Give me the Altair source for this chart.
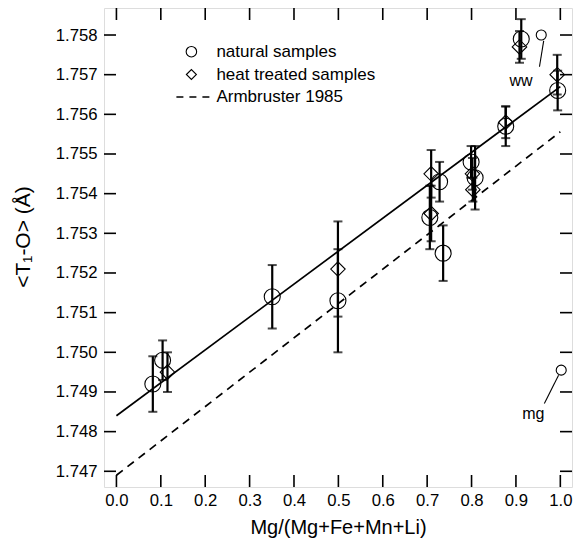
import altair as alt
import pandas as pd

# ---- data ----
nat_x = [0.082, 0.104, 0.351, 0.499, 0.706, 0.728, 0.736, 0.799, 0.808, 0.877, 0.912, 0.994]
nat_y = [1.7492, 1.7498, 1.7514, 1.7513, 1.7534, 1.7543, 1.7525, 1.7548, 1.7544, 1.7557, 1.7579, 1.7566]
nat_err = [0.0007, 0.0005, 0.0008, 0.0013, 0.0008, 0.0005, 0.0007, 0.0004, 0.0008, 0.0005, 0.0005, 0.0005]

heat_x = [0.115, 0.499, 0.709, 0.709, 0.802, 0.803, 0.877, 0.908, 0.993]
heat_y = [1.7495, 1.7521, 1.7545, 1.7535, 1.7545, 1.7541, 1.7558, 1.7577, 1.7570]
heat_err = [0.0005, 0.0012, 0.0006, 0.0007, 0.0004, 0.0003, 0.0004, 0.0004, 0.0005]

out_x = [0.957, 1.002]
out_y = [1.7580, 1.74955]
out_label = ["ww", "mg"]
lab_x = [0.9115, 0.9393]
lab_y = [1.75684, 1.74844]
lead_x1 = [0.9625, 0.996]
lead_y1 = [1.75785, 1.74942]
lead_x2 = [0.953, 0.964]
lead_y2 = [1.7572, 1.74871]

fit_x = [0.0, 1.0]
fit_y = [1.7484, 1.7567]
arm_y = [1.7469, 1.75556]

x_ticks = [0.0, 0.1, 0.2, 0.3, 0.4, 0.5, 0.6, 0.7, 0.8, 0.9, 1.0]
y_ticks = [1.747, 1.748, 1.749, 1.750, 1.751, 1.752, 1.753, 1.754, 1.755, 1.756, 1.757, 1.758]

legend_labels = ["natural samples", "heat treated samples", "Armbruster 1985"]

# ---- layout ----
W, H = 468, 479
FONT = "Liberation Sans"
xs = alt.Scale(domain=[-0.028, 1.0263], nice=False, zero=False)
ys = alt.Scale(domain=[1.746604, 1.758681], nice=False, zero=False)

x_axis = alt.Axis(values=x_ticks, format=".1f", ticks=False, domain=False, grid=False,
                  labelFontSize=16.7, labelPadding=5, labelColor="black",
                  title="Mg/(Mg+Fe+Mn+Li)", titleFontSize=20, titleFontWeight="normal",
                  titleColor="black", titlePadding=9)
y_axis = alt.Axis(values=y_ticks, format=".3f", ticks=False, domain=False, grid=False,
                  labelFontSize=16.7, labelPadding=7, labelColor="black", title=None)

nat = pd.DataFrame({"x": nat_x, "y": nat_y})
nat["lo"] = nat["y"] - pd.Series(nat_err)
nat["hi"] = nat["y"] + pd.Series(nat_err)
heat = pd.DataFrame({"x": heat_x, "y": heat_y})
heat["lo"] = heat["y"] - pd.Series(heat_err)
heat["hi"] = heat["y"] + pd.Series(heat_err)
bars = pd.concat([nat, heat], ignore_index=True)

X = lambda f: alt.X(f, type="quantitative", scale=xs, axis=x_axis)
Y = lambda f: alt.Y(f, type="quantitative", scale=ys, axis=y_axis)

xt = pd.DataFrame({"t": x_ticks})
yt = pd.DataFrame({"t": y_ticks})
TL = 12
tick_style = dict(color="black", strokeWidth=1.6)
xb = alt.Chart(xt).mark_rule(**tick_style).encode(x=X("t"), y=alt.value(H), y2=alt.value(H - TL))
xtop = alt.Chart(xt).mark_rule(**tick_style).encode(x=X("t"), y=alt.value(0), y2=alt.value(TL))
yl = alt.Chart(yt).mark_rule(**tick_style).encode(y=Y("t"), x=alt.value(0), x2=alt.value(TL))
yr = alt.Chart(yt).mark_rule(**tick_style).encode(y=Y("t"), x=alt.value(W), x2=alt.value(W - TL))

fit = pd.DataFrame({"x": fit_x, "y": fit_y, "a": arm_y})
fit_line = alt.Chart(fit).mark_line(color="black", strokeWidth=1.7).encode(x=X("x"), y=Y("y"))
arm_line = alt.Chart(fit).mark_line(color="black", strokeWidth=1.7, strokeDash=[8, 6]).encode(
    x=X("x"), y=Y("a"))

err = alt.Chart(bars).mark_rule(color="black", strokeWidth=2.2).encode(x=X("x"), y=Y("lo"), y2="hi")
cap_lo = alt.Chart(bars).mark_tick(orient="horizontal", color="black", size=9, thickness=2).encode(
    x=X("x"), y=Y("lo"))
cap_hi = alt.Chart(bars).mark_tick(orient="horizontal", color="black", size=9, thickness=2).encode(
    x=X("x"), y=Y("hi"))

circles = alt.Chart(nat).mark_point(shape="circle", size=256, filled=False, color="black",
                                    strokeWidth=1.1, opacity=1).encode(x=X("x"), y=Y("y"))
diamonds = alt.Chart(heat).mark_point(shape="diamond", size=210, filled=False, color="black",
                                      strokeWidth=1.1, opacity=1).encode(x=X("x"), y=Y("y"))

outl = pd.DataFrame({"x": out_x, "y": out_y, "lx": lab_x, "ly": lab_y, "label": out_label,
                     "x1": lead_x1, "y1": lead_y1, "x2": lead_x2, "y2": lead_y2})
out_pts = alt.Chart(outl).mark_point(shape="circle", size=100, filled=False, color="black",
                                     strokeWidth=1.1, opacity=1).encode(x=X("x"), y=Y("y"))
out_lead = alt.Chart(outl).mark_rule(color="black", strokeWidth=1.1).encode(
    x=X("x1"), y=Y("y1"), x2="x2", y2="y2")
out_txt = alt.Chart(outl).mark_text(font=FONT, fontSize=16, color="black", baseline="middle",
                                    align="center").encode(x=X("lx"), y=Y("ly"), text="label")

# legend (drawn by hand)
LX, LT = 87.4, 112.4
LY = [43.7, 66.5, 89.0]
leg_c = alt.Chart(pd.DataFrame({"a": [0]})).mark_point(shape="circle", size=110, filled=False,
        color="black", strokeWidth=1.1, opacity=1).encode(x=alt.value(LX), y=alt.value(LY[0]))
leg_d = alt.Chart(pd.DataFrame({"a": [0]})).mark_point(shape="diamond", size=100, filled=False,
        color="black", strokeWidth=1.1, opacity=1).encode(x=alt.value(LX), y=alt.value(LY[1]))
leg_l = alt.Chart(pd.DataFrame({"a": [0]})).mark_rule(color="black", strokeWidth=1.6,
        strokeDash=[7, 6]).encode(x=alt.value(72.4), x2=alt.value(105.7), y=alt.value(LY[2]))
leg_t = [alt.Chart(pd.DataFrame({"t": [lab]})).mark_text(font=FONT, fontSize=17, color="black",
         align="left", baseline="middle").encode(x=alt.value(LT), y=alt.value(ly), text="t")
         for lab, ly in zip(legend_labels, LY)]

ytitle = alt.Chart(pd.DataFrame({"t": ["<T\u2081-O> (\u00c5)"]})).mark_text(
    font=FONT, fontSize=21, color="black", angle=270, align="center", baseline="middle").encode(
    x=alt.value(24 - 104), y=alt.value(237 - 8), text="t")

chart = alt.layer(
    xb, xtop, yl, yr, fit_line, arm_line, err, cap_lo, cap_hi, circles, diamonds,
    out_pts, out_lead, out_txt, leg_c, leg_d, leg_l, *leg_t, ytitle
).properties(
    width=W, height=H,
    autosize=alt.AutoSizeParams(type="none"),
    padding={"left": 104, "top": 8, "right": 9, "bottom": 68},
    background="white",
).configure_view(stroke="black", strokeWidth=2).configure(font=FONT)

chart.save("out.html", embed_options={"renderer": "svg", "actions": False})
